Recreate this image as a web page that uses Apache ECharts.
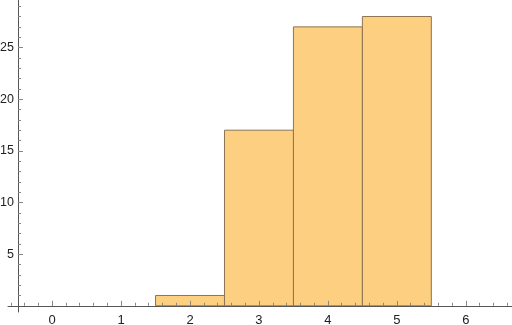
<!DOCTYPE html>
<html><head><meta charset="utf-8">
<script src="https://cdn.jsdelivr.net/npm/echarts@6/dist/echarts.min.js"></script>
<style>html,body{margin:0;padding:0;background:#fff}#c{width:512px;height:325px}</style>
</head><body><div id="c"></div>
<script>
const binCenters = [2, 3, 4, 5];
const binCounts = [1, 17, 27, 28];
const binWidth = 1;
const xTickLabels = [0, 1, 2, 3, 4, 5, 6];
const yTickLabels = [5, 10, 15, 20, 25];
const xMinorTicks = [];
for (let i = -3; i <= 33; i++) xMinorTicks.push(+(i * 0.2).toFixed(2));
const yMinorTicks = [];
for (let i = 1; i <= 29; i++) yMinorTicks.push(i);

const X_MIN = -0.64, X_MAX = 6.67, Y_MIN = -0.6, Y_MAX = 29.6;
const Y_AXIS_OFFSET = -10;
const axisColor = '#555';
const tickColor = '#888';
const font = {fontFamily: 'Liberation Sans, Arial, sans-serif', fontSize: 13, color: '#222'};

const chart = echarts.init(document.getElementById('c'), null, {renderer: 'canvas'});
chart.setOption({
  animation: false,
  grid: {left: 8, right: 0, top: 0, bottom: 13, containLabel: false, outerBoundsMode: 'none'},
  xAxis: [
    {type: 'value', min: X_MIN, max: X_MAX, z: 10,
     axisLine: {show: true, onZero: true, lineStyle: {color: axisColor, width: 1}},
     axisTick: {show: true, inside: true, length: 5, customValues: xTickLabels, lineStyle: {color: tickColor}},
     axisLabel: {show: true, customValues: xTickLabels, margin: 2, ...font},
     splitLine: {show: false}},
    {type: 'value', min: X_MIN, max: X_MAX, position: 'bottom', z: 10,
     axisLine: {show: false, onZero: true},
     axisTick: {show: true, inside: true, length: 3, customValues: xMinorTicks, lineStyle: {color: tickColor}},
     axisLabel: {show: false}, splitLine: {show: false}}
  ],
  yAxis: [
    {type: 'value', min: Y_MIN, max: Y_MAX, z: 10, offset: Y_AXIS_OFFSET,
     axisLine: {show: true, onZero: false, lineStyle: {color: axisColor, width: 1}},
     axisTick: {show: true, inside: true, length: 5, customValues: yTickLabels, lineStyle: {color: tickColor}},
     axisLabel: {show: true, customValues: yTickLabels, margin: 4, ...font, fontSize: 12.5},
     splitLine: {show: false}},
    {type: 'value', min: Y_MIN, max: Y_MAX, z: 10, offset: Y_AXIS_OFFSET, position: 'left',
     axisLine: {show: false, onZero: false},
     axisTick: {show: true, inside: true, length: 3, customValues: yMinorTicks, lineStyle: {color: tickColor}},
     axisLabel: {show: false}, splitLine: {show: false}}
  ],
  series: [{
    type: 'custom',
    xAxisIndex: 0, yAxisIndex: 0,
    data: binCenters.map((c, i) => [c, binCounts[i]]),
    renderItem: function (params, api) {
      const c = api.value(0), h = api.value(1);
      const p0 = api.coord([c - binWidth / 2, h]);
      const p1 = api.coord([c + binWidth / 2, 0]);
      return {
        type: 'rect',
        shape: {x: p0[0], y: p0[1], width: p1[0] - p0[0], height: p1[1] - p0[1]},
        style: {fill: '#fdcf80', stroke: '#8c7652', lineWidth: 1}
      };
    }
  }]
});
</script></body></html>
